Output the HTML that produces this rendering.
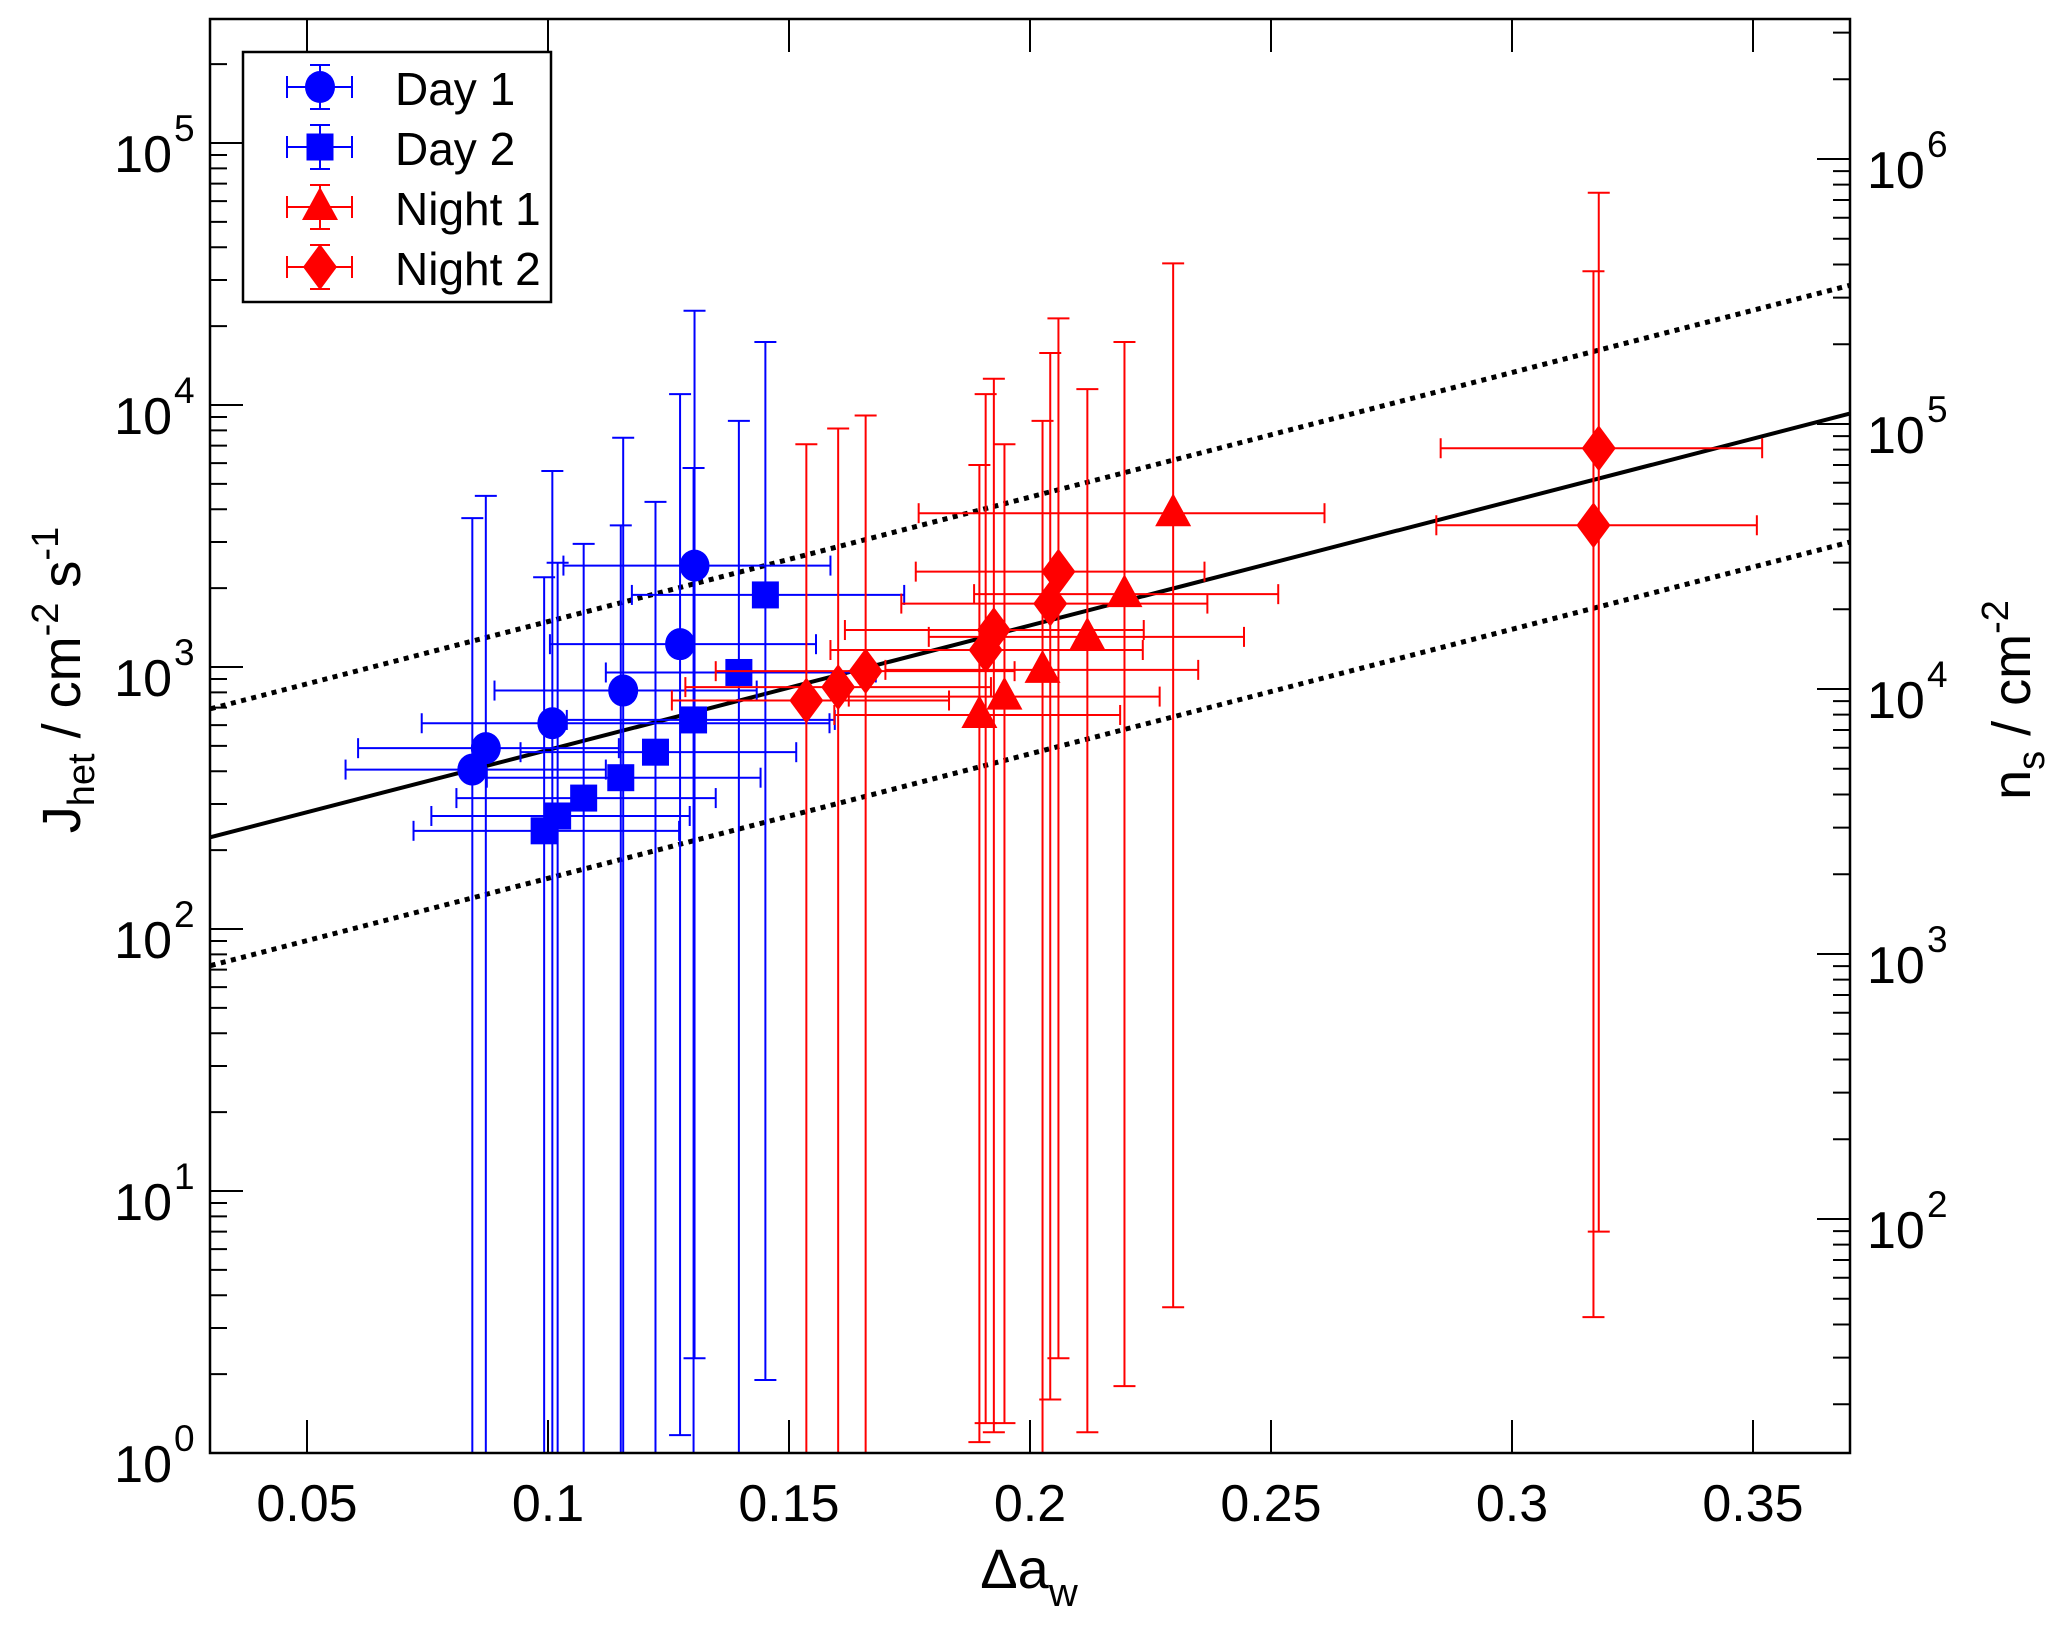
<!DOCTYPE html>
<html><head><meta charset="utf-8"><style>
html,body{margin:0;padding:0;background:#fff;overflow:hidden;width:2067px;height:1633px;}
svg{display:block;font-family:"Liberation Sans",Arial,sans-serif;}
</style></head><body>
<svg id="chart" width="2067" height="1633" viewBox="0 0 2067 1633" xmlns="http://www.w3.org/2000/svg">
<defs><clipPath id="pc"><rect x="210" y="19" width="1640" height="1434"/></clipPath></defs>
<rect x="0" y="0" width="2067" height="1633" fill="#fff"/>
<g id="ticks"></g>
<g id="fit" clip-path="url(#pc)"></g>
<g id="data" clip-path="url(#pc)"></g>
<rect x="210" y="19" width="1640" height="1434" fill="none" stroke="#000" stroke-width="2.5"/>
<g id="labels" font-size="52" fill="#000"></g>
<text x="1029" y="1588" font-size="56" text-anchor="middle">Δa<tspan font-size="40" dy="18">w</tspan></text>
<text transform="translate(80,680) rotate(-90)" font-size="54" text-anchor="middle">J<tspan font-size="38" dy="14">het</tspan><tspan dy="-14"> / cm</tspan><tspan font-size="38" dy="-22">-2</tspan><tspan dy="22"> s</tspan><tspan font-size="38" dy="-22">-1</tspan></text>
<text transform="translate(2030,700) rotate(-90)" font-size="54" text-anchor="middle">n<tspan font-size="38" dy="14">s</tspan><tspan dy="-14"> / cm</tspan><tspan font-size="38" dy="-22">-2</tspan></text>
<g id="legend"></g>
</svg>
<script>
const xTicks = [0.05, 0.1, 0.15, 0.2, 0.25, 0.3, 0.35];
const xTickLabels = ["0.05","0.1","0.15","0.2","0.25","0.3","0.35"];
const yLeftDecades = [0,1,2,3,4,5];
const yRightDecades = [2,3,4,5,6];

const day1X = [0.0843,0.0871,0.1009,0.1156,0.1274,0.1304];
const day1Y = [406,490,610,813,1222,2438];
const day1YHi = [3700,4500,5600,7500,11000,22900];
const day1YLo = [0.01,0.01,0.01,0.01,1.17,2.3];
const day1XLo = [0.058,0.0606,0.0738,0.0889,0.1004,0.1032];
const day1XHi = [0.112,0.1147,0.1584,0.1433,0.1556,0.1586];

const day2X = [0.0992,0.1020,0.1074,0.1151,0.1223,0.1302,0.1396,0.1451];
const day2Y = [237,270,316,378,473,628,953,1884];
const day2YHi = [2200,2500,2950,3470,4270,5750,8700,17400];
const day2YLo = [0.01,0.01,0.01,0.01,0.01,0.01,0.01,1.9];
const day2XLo = [0.0721,0.0758,0.0810,0.0873,0.0943,0.1039,0.112,0.1174];
const day2XHi = [0.1272,0.1294,0.1348,0.1441,0.1515,0.1595,0.168,0.1739];

const night1X = [0.1895,0.1947,0.2026,0.2119,0.2196,0.2297];
const night1Y = [656,771,975,1303,1897,3864];
const night1YHi = [5900,7080,8700,11500,17400,34700];
const night1YLo = [1.1,1.3,0.01,1.2,1.8,3.6];
const night1XLo = [0.1594,0.1624,0.170,0.179,0.1884,0.1769];
const night1XHi = [0.2187,0.2269,0.2349,0.2444,0.2515,0.2611];

const night2X = [0.1536,0.1602,0.1659,0.1908,0.1925,0.2042,0.2059,0.3169,0.3180];
const night2Y = [745,838,964,1161,1384,1746,2312,3475,6839];
const night2YHi = [7080,8130,9120,11000,12600,15800,21400,32400,64600];
const night2YLo = [0.01,0.01,0.01,1.3,1.2,1.6,2.3,3.3,7.0];
const night2XLo = [0.1257,0.1285,0.1348,0.1586,0.1616,0.1733,0.1763,0.2843,0.2852];
const night2XHi = [0.1832,0.1919,0.1968,0.2234,0.2236,0.2368,0.2362,0.3508,0.3519];

const fitIntercept = [2.208];
const fitSlope = [4.753];
const bandOffset = [0.49];

const NS = "http://www.w3.org/2000/svg";
const L=210,R=1850,T=19,B=1453;
function X(v){return 307+(v-0.05)*4820;}
function Y(v){return 1453-Math.log10(v)*262;}
function YR(v){return 159+(6-Math.log10(v))*265;}
function mk(tag,attrs,parent){const e=document.createElementNS(NS,tag);for(const k in attrs)e.setAttribute(k,attrs[k]);parent.appendChild(e);return e;}

const ticks=document.getElementById('ticks');
const labels=document.getElementById('labels');
xTicks.forEach((t,i)=>{
  const x=X(t);
  const a=mk('line',{x1:x,y1:B,x2:x,y2:B-33,stroke:'#000','stroke-width':2},ticks);
  
  
  const b=mk('line',{x1:x,y1:T,x2:x,y2:T+33,stroke:'#000','stroke-width':2},ticks);
  
  
  const tx=mk('text',{x:x,y:1521,'text-anchor':'middle','font-size':52},labels);
  tx.textContent=xTickLabels[i];
  
  
});
yLeftDecades.forEach(d=>{
  const y=Y(Math.pow(10,d));
  const a=mk('line',{x1:L,y1:y,x2:L+33,y2:y,stroke:'#000','stroke-width':2},ticks);
  
  
  for(let m=2;m<=9;m++){
    const ym=Y(m*Math.pow(10,d));
    if(ym<T)continue;
    const b=mk('line',{x1:L,y1:ym,x2:L+17,y2:ym,stroke:'#000','stroke-width':2},ticks);
    
    
  }
  const tx=mk('text',{x:172,y:y+29,'text-anchor':'end','font-size':52},labels);
  tx.textContent='10';
  
  
  const sp=mk('text',{x:174,y:y-2,'font-size':37},labels);
  sp.textContent=String(d);
  
  
});
[1,2,3,4,5,6].forEach(d=>{
  const y=YR(Math.pow(10,d));
  if(y>=T&&y<=B){
    const a=mk('line',{x1:R,y1:y,x2:R-33,y2:y,stroke:'#000','stroke-width':2},ticks);
    
    
  }
  for(let m=2;m<=9;m++){
    const ym=YR(m*Math.pow(10,d));
    if(ym<T||ym>B)continue;
    const b=mk('line',{x1:R,y1:ym,x2:R-17,y2:ym,stroke:'#000','stroke-width':2},ticks);
    
    
  }
});
yRightDecades.forEach(d=>{
  const y=YR(Math.pow(10,d));
  const tx=mk('text',{x:1867,y:y+29,'font-size':52},labels);
  tx.textContent='10';
  
  
  const sp=mk('text',{x:1927,y:y-2,'font-size':37},labels);
  sp.textContent=String(d);
  
  
});

const fit=document.getElementById('fit');
function fitLine(off,dash,name){
  const x0=0.03,x1=0.37;
  const l0=fitIntercept[0]+fitSlope[0]*x0+off, l1=fitIntercept[0]+fitSlope[0]*x1+off;
  const ln=mk('line',{x1:X(x0),y1:Y(Math.pow(10,l0)),x2:X(x1),y2:Y(Math.pow(10,l1)),stroke:'#000','stroke-width':dash?5:4,'stroke-dasharray':dash?'5 5.5':'none'},fit);
  
  
}
fitLine(0,false,'fit-line');
fitLine(bandOffset[0],true,'upper-bound-line');
fitLine(-bandOffset[0],true,'lower-bound-line');

function marker(shape,cx,cy,color,parent){
  let e;
  if(shape==='circle') e=mk('ellipse',{cx:cx,cy:cy,rx:15,ry:16,fill:color},parent);
  else if(shape==='square') e=mk('rect',{x:cx-13.5,y:cy-13.5,width:27,height:27,fill:color},parent);
  else if(shape==='triangle') e=mk('polygon',{points:`${cx},${cy-20} ${cx-18},${cy+13} ${cx+18},${cy+13}`,fill:color},parent);
  else e=mk('polygon',{points:`${cx},${cy-23} ${cx-17},${cy} ${cx},${cy+23} ${cx+17},${cy}`,fill:color},parent);
  return e;
}
const dataG=document.getElementById('data');
function series(name,shape,color,xs,ys,yhi,ylo,xlo,xhi){
  const g=mk('g',{},dataG);
  
  
  const bars=mk('g',{stroke:color,'stroke-width':2},g);
  xs.forEach((xv,i)=>{
    const cx=X(xv),cy=Y(ys[i]);
    const yt=Math.max(T,Y(yhi[i])),ybRaw=Y(ylo[i]);
    const yb=Math.min(B,ybRaw);
    const v=mk('line',{x1:cx,y1:yt,x2:cx,y2:yb},bars);
    
    
    mk('line',{x1:cx-11,y1:yt,x2:cx+11,y2:yt},bars);
    if(ybRaw<B) mk('line',{x1:cx-11,y1:yb,x2:cx+11,y2:yb},bars);
    const xl=X(xlo[i]),xh=X(xhi[i]);
    const h=mk('line',{x1:xl,y1:cy,x2:xh,y2:cy},bars);
    
    
    mk('line',{x1:xl,y1:cy-10,x2:xl,y2:cy+10},bars);
    mk('line',{x1:xh,y1:cy-10,x2:xh,y2:cy+10},bars);
  });
  xs.forEach((xv,i)=>{
    const m=marker(shape,X(xv),Y(ys[i]),color,g);
    
    
  });
}
series('day-1','circle','#0000ff',day1X,day1Y,day1YHi,day1YLo,day1XLo,day1XHi);
series('day-2','square','#0000ff',day2X,day2Y,day2YHi,day2YLo,day2XLo,day2XHi);
series('night-1','triangle','#ff0000',night1X,night1Y,night1YHi,night1YLo,night1XLo,night1XHi);
series('night-2','diamond','#ff0000',night2X,night2Y,night2YHi,night2YLo,night2XLo,night2XHi);

const lg=document.getElementById('legend');
const fr=mk('rect',{x:243,y:52,width:308,height:250,fill:'#fff',stroke:'#000','stroke-width':2.5},lg);


const legNames=['Day 1','Day 2','Night 1','Night 2'];
const legShapes=['circle','square','triangle','diamond'];
const legColors=['#0000ff','#0000ff','#ff0000','#ff0000'];
legNames.forEach((n,i)=>{
  const cy=87+i*60;
  const g=mk('g',{},lg);
  
  
  const b=mk('g',{stroke:legColors[i],'stroke-width':2},g);
  mk('line',{x1:287,y1:cy,x2:352,y2:cy},b);
  mk('line',{x1:287,y1:cy-11,x2:287,y2:cy+11},b);
  mk('line',{x1:352,y1:cy-11,x2:352,y2:cy+11},b);
  mk('line',{x1:320,y1:cy-22,x2:320,y2:cy+22},b);
  mk('line',{x1:310,y1:cy-22,x2:330,y2:cy-22},b);
  mk('line',{x1:310,y1:cy+22,x2:330,y2:cy+22},b);
  const m=marker(legShapes[i],320,cy,legColors[i],g);
  
  
  const t=mk('text',{x:395,y:cy+18,'font-size':46},g);
  t.textContent=n;
  
  
});
</script>
</body></html>
